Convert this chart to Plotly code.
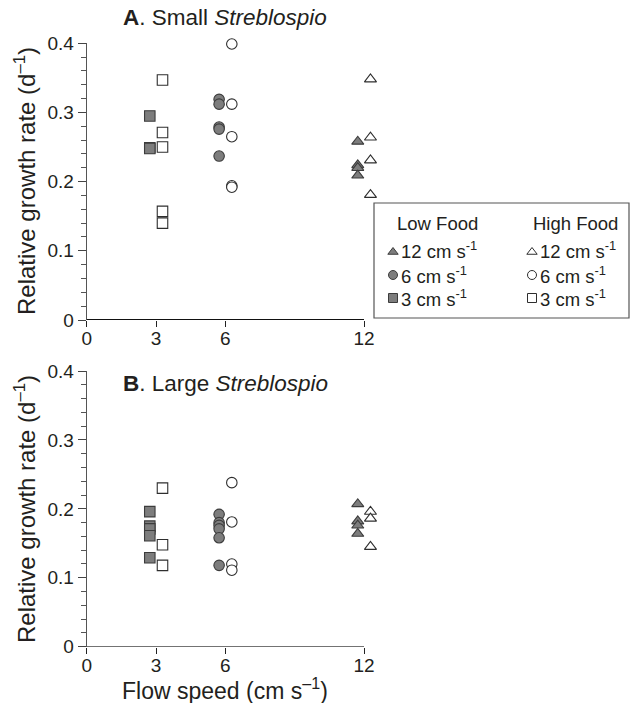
import plotly.graph_objects as go

# Flow speeds (cm s-1) and small horizontal dodge separating food treatments
speeds = [3, 6, 12]
dodge_low = -0.27
dodge_high = 0.28

# Relative growth rate (d-1), small Streblospio
small_low_3 = [0.295, 0.249, 0.248]
small_high_3 = [0.347, 0.271, 0.250, 0.157, 0.140]
small_low_6 = [0.319, 0.312, 0.279, 0.276, 0.237]
small_high_6 = [0.399, 0.312, 0.265, 0.194, 0.192]
small_low_12 = [0.258, 0.224, 0.220, 0.209]
small_high_12 = [0.348, 0.264, 0.231, 0.181]

# Relative growth rate (d-1), large Streblospio
large_low_3 = [0.196, 0.175, 0.171, 0.161, 0.129]
large_high_3 = [0.230, 0.148, 0.118]
large_low_6 = [0.192, 0.180, 0.176, 0.171, 0.158, 0.118]
large_high_6 = [0.238, 0.181, 0.120, 0.111]
large_low_12 = [0.207, 0.182, 0.176, 0.164]
large_high_12 = [0.196, 0.186, 0.145]

y_ticks = [0, 0.1, 0.2, 0.3, 0.4]
y_ticktext = ["0", "0.1", "0.2", "0.3", "0.4"]
x_ticks = [0, 3, 6, 12]
x_ticktext = ["0", "3", "6", "12"]

W, H = 630, 703
FONT = "Liberation Sans, Arial, sans-serif"
TXT = "#231f20"
GRAY_FILL = "#7d7d7d"
GRAY_EDGE = "#3c3c3c"
OPEN_EDGE = "#2e2e2e"

symbols = {3: "square", 6: "circle", 12: "triangle-up"}

# x scale: 0 -> 86.7 px, 12 -> 364 px; range padded so markers beyond 12 stay visible
X0_PX, X12_PX = 86.7, 364.0
X_MAX = 12.8
x_right_px = X0_PX + (X12_PX - X0_PX) * X_MAX / 12


def px(x):
    return x / W


def py(y):
    return 1 - y / H


fig = go.Figure()

panels = [
    ("x", "y", {3: small_low_3, 6: small_low_6, 12: small_low_12},
     {3: small_high_3, 6: small_high_6, 12: small_high_12}),
    ("x2", "y2", {3: large_low_3, 6: large_low_6, 12: large_low_12},
     {3: large_high_3, 6: large_high_6, 12: large_high_12}),
]

for xa, ya, low, high in panels:
    for s in speeds:
        fig.add_trace(go.Scatter(
            x=[s + dodge_low] * len(low[s]), y=low[s], xaxis=xa, yaxis=ya,
            mode="markers", cliponaxis=False, showlegend=False,
            marker=dict(symbol=symbols[s], size=10.5, color=GRAY_FILL,
                        line=dict(color=GRAY_EDGE, width=1.1)),
        ))
        fig.add_trace(go.Scatter(
            x=[s + dodge_high] * len(high[s]), y=high[s], xaxis=xa, yaxis=ya,
            mode="markers", cliponaxis=False, showlegend=False,
            marker=dict(symbol=symbols[s], size=10.5, color="white",
                        line=dict(color=OPEN_EDGE, width=1.1)),
        ))

# Legend keys drawn on a pixel-space overlay axis
key_rows = [(12, 250), (6, 275), (3, 298)]
for col_x, fill, edge in [(393, GRAY_FILL, GRAY_EDGE), (532, "white", OPEN_EDGE)]:
    for s, ry in key_rows:
        fig.add_trace(go.Scatter(
            x=[col_x], y=[ry + (2 if s == 12 else 0)], xaxis="x3", yaxis="y3",
            mode="markers", cliponaxis=False, showlegend=False,
            marker=dict(symbol=symbols[s], size=9, color=fill,
                        line=dict(color=edge, width=1)),
        ))

xdom = [px(X0_PX), px(x_right_px)]
axis_font = dict(family=FONT, size=19, color=TXT)


def yaxis_cfg(dom, anchor):
    return dict(
        domain=dom, anchor=anchor, range=[0, 0.4],
        tickvals=y_ticks, ticktext=y_ticktext, tickfont=axis_font,
        ticks="outside", ticklen=8, tickwidth=1, tickcolor="#444",
        showline=True, linecolor="#555", linewidth=1,
        showgrid=False, zeroline=False, automargin=False,
        minor=dict(dtick=0.02, ticks="outside", ticklen=5, tickwidth=1,
                   tickcolor="#555", showgrid=False),
    )


def xaxis_cfg(anchor):
    return dict(
        domain=xdom, anchor=anchor, range=[0, X_MAX],
        tickvals=x_ticks, ticktext=x_ticktext, tickfont=axis_font,
        ticks="outside", ticklen=6, tickwidth=1.2, tickcolor="#222",
        ticklabelstandoff=-5, automargin=False,
        showline=False, showgrid=False, zeroline=False,
    )


def label(text, x, y, size, **kw):
    d = dict(text=text, x=px(x), y=py(y), showarrow=False,
             xanchor=kw.pop("xanchor", "center"), yanchor="middle",
             font=dict(family=FONT, size=size, color=TXT),
             xref="paper", yref="paper")
    d.update(kw)
    return d


annotations = [
    label("<b>A</b>. Small <i>Streblospio</i>", 121, 18, 22.5, xanchor="left"),
    label("<b>B</b>. Large <i>Streblospio</i>", 121, 383, 22.5, xanchor="left"),
    label("Relative growth rate (d<sup>–1</sup>)", 25, 181, 24, textangle=-90),
    label("Relative growth rate (d<sup>–1</sup>)", 25, 509, 24, textangle=-90),
    label("Flow speed (cm s<sup>–1</sup>)", 225, 689, 23),
    label("Low Food", 437, 223, 18.5),
    label("High Food", 575, 223, 18.5),
]
for col_x in (399, 538):
    for s, ry in key_rows:
        annotations.append(label(f"{s} cm s<sup>-1</sup>", col_x, ry, 18.5,
                                 xanchor="left"))

# x-axis baselines end at 12 cm s-1
shapes = [
    dict(type="line", xref="x", yref="y", x0=0, x1=12, y0=0, y1=0,
         line=dict(color="#111", width=2)),
    dict(type="line", xref="x2", yref="y2", x0=0, x1=12, y0=0, y1=0,
         line=dict(color="#444", width=1.3)),
    dict(type="rect", xref="paper", yref="paper",
         x0=px(374), x1=px(629), y0=py(318), y1=py(203),
         line=dict(color="#555", width=1.2), fillcolor="rgba(0,0,0,0)"),
]

fig.update_layout(
    width=W, height=H,
    margin=dict(l=0, r=0, t=0, b=0, pad=0, autoexpand=False),
    paper_bgcolor="white", plot_bgcolor="rgba(0,0,0,0)",
    showlegend=False,
    xaxis=xaxis_cfg("y"),
    yaxis=yaxis_cfg([py(320), py(43.3)], "x"),
    xaxis2=xaxis_cfg("y2"),
    yaxis2=yaxis_cfg([py(646.7), py(371)], "x2"),
    xaxis3=dict(domain=[0, 1], range=[0, W], visible=False, anchor="y3",
                fixedrange=True, automargin=False),
    yaxis3=dict(domain=[0, 1], range=[H, 0], visible=False, anchor="x3",
                fixedrange=True, automargin=False),
    annotations=annotations,
    shapes=shapes,
)

fig.write_html("out.html",
               post_script="document.body.style.margin='0px';")
